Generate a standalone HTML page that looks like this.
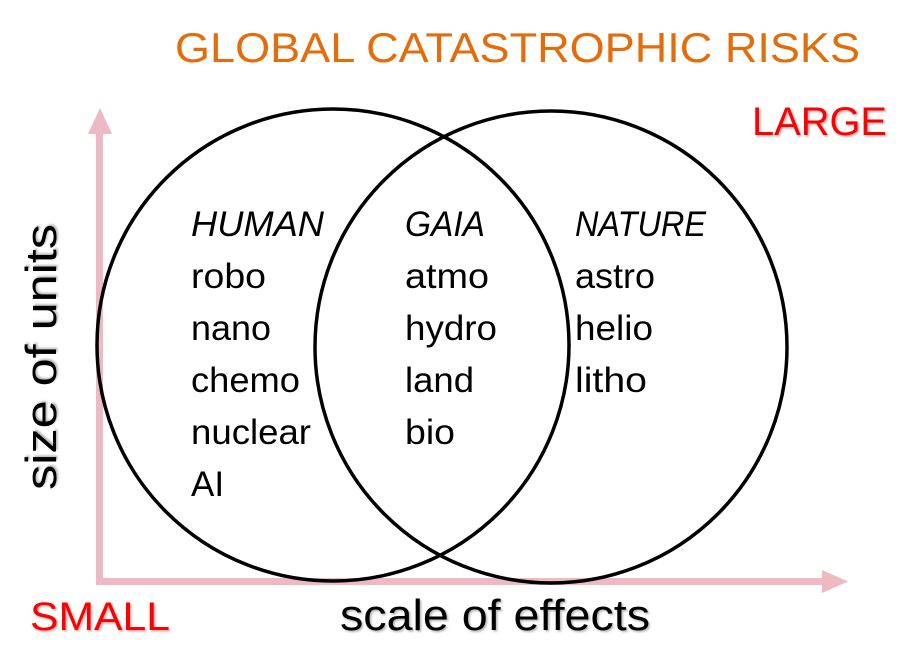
<!DOCTYPE html>
<html><head><meta charset="utf-8"><style>
body{margin:0;background:#fff;}
svg text{font-family:"Liberation Sans",sans-serif;}
</style></head><body>
<svg width="920" height="655" viewBox="0 0 920 655" xmlns="http://www.w3.org/2000/svg">
<defs><filter id="sh"><feDropShadow dx="1.5" dy="1.5" stdDeviation="1" flood-color="#000" flood-opacity="0.3"/></filter></defs>
<rect width="920" height="655" fill="#fff"/>
<g fill="#eeb8c4" stroke="none">
<rect x="96" y="128" width="7" height="456"/>
<polygon points="88,134 100,108 112,134"/>
<rect x="96" y="578" width="730" height="7"/>
<polygon points="822,570 848,581.5 822,593"/>
</g>
<circle cx="333" cy="345" r="236" fill="none" stroke="#000" stroke-width="3.5"/>
<circle cx="551" cy="347" r="236" fill="none" stroke="#000" stroke-width="3.5"/>
<text x="175" y="62" font-size="42" fill="#e46c0a" textLength="685" lengthAdjust="spacingAndGlyphs">GLOBAL CATASTROPHIC RISKS</text>
<text x="752" y="135" font-size="40" fill="#ff0000" textLength="135" lengthAdjust="spacingAndGlyphs" filter="url(#sh)">LARGE</text>
<text x="30" y="630" font-size="40" fill="#ff0000" textLength="140" lengthAdjust="spacingAndGlyphs" filter="url(#sh)">SMALL</text>
<text x="340" y="630" font-size="44" fill="#000" textLength="310" lengthAdjust="spacingAndGlyphs" filter="url(#sh)">scale of effects</text>
<text transform="translate(56,490) rotate(-90)" font-size="44" fill="#000" textLength="266" lengthAdjust="spacingAndGlyphs" filter="url(#sh)">size of units</text>
<g font-size="35" fill="#000">
<text x="191" y="236" font-style="italic" textLength="133" lengthAdjust="spacingAndGlyphs">HUMAN</text>
<text x="191" y="288" textLength="75" lengthAdjust="spacingAndGlyphs">robo</text>
<text x="191" y="340" textLength="80" lengthAdjust="spacingAndGlyphs">nano</text>
<text x="191" y="392" textLength="109" lengthAdjust="spacingAndGlyphs">chemo</text>
<text x="191" y="444" textLength="120" lengthAdjust="spacingAndGlyphs">nuclear</text>
<text x="191" y="496">AI</text>
<text x="405" y="236" font-style="italic" textLength="80" lengthAdjust="spacingAndGlyphs">GAIA</text>
<text x="405" y="288" textLength="84" lengthAdjust="spacingAndGlyphs">atmo</text>
<text x="405" y="340" textLength="92" lengthAdjust="spacingAndGlyphs">hydro</text>
<text x="405" y="392" textLength="69" lengthAdjust="spacingAndGlyphs">land</text>
<text x="405" y="444" textLength="50" lengthAdjust="spacingAndGlyphs">bio</text>
<text x="575" y="236" font-style="italic" textLength="131" lengthAdjust="spacingAndGlyphs">NATURE</text>
<text x="575" y="288" textLength="80" lengthAdjust="spacingAndGlyphs">astro</text>
<text x="575" y="340" textLength="78" lengthAdjust="spacingAndGlyphs">helio</text>
<text x="575" y="392" textLength="72" lengthAdjust="spacingAndGlyphs">litho</text>
</g>
</svg>
</body></html>
